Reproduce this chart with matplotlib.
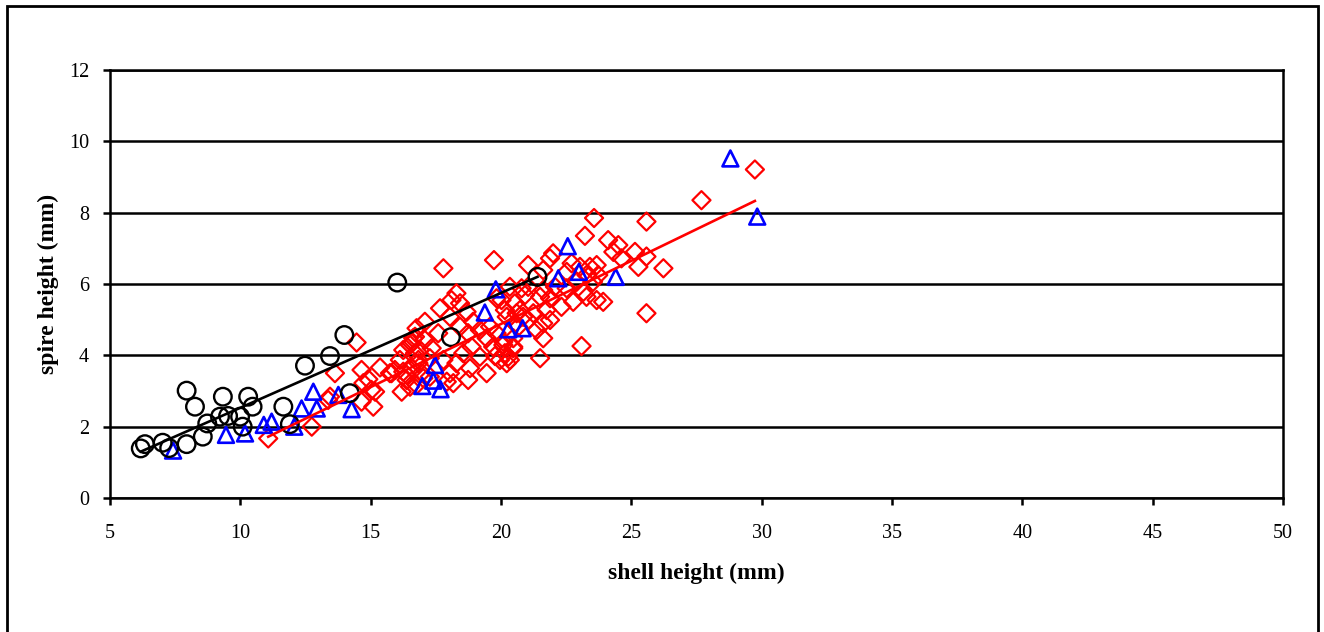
import numpy as np
import matplotlib.pyplot as plt
from matplotlib.patches import Rectangle

plt.rcParams["font.family"] = ["Liberation Serif", "DejaVu Serif"]

# black circles
circle_x = [6.18, 6.34, 7.02, 7.27, 7.94, 7.94, 8.26, 8.56, 8.73, 9.22, 9.33, 9.53,
            9.99, 10.09, 10.30, 10.47, 11.65, 11.90, 12.48, 13.44, 13.99, 14.20,
            16.02, 18.08, 21.40]
circle_y = [1.39, 1.51, 1.55, 1.40, 1.51, 3.01, 2.56, 1.72, 2.09, 2.28, 2.84, 2.30,
            2.28, 2.00, 2.84, 2.56, 2.56, 2.07, 3.71, 3.98, 4.57, 2.94,
            6.04, 4.51, 6.20]

# blue triangles
triangle_x = [7.42, 9.45, 10.18, 10.90, 11.20, 12.07, 12.35, 12.80, 12.93, 13.76,
              14.27, 16.98, 17.40, 17.47, 17.68, 19.38, 19.80, 20.28, 20.83, 22.20,
              22.56, 22.99, 24.40, 28.80, 29.83]
triangle_y = [1.33, 1.77, 1.81, 2.05, 2.14, 2.00, 2.51, 2.98, 2.51, 2.89,
              2.49, 3.14, 3.29, 3.73, 3.05, 5.20, 5.85, 4.73, 4.76, 6.16,
              7.06, 6.34, 6.20, 9.52, 7.89]

# red diamonds
diamond_x = [11.07, 12.74, 14.46, 13.63, 14.65, 14.91, 15.36, 15.03, 14.72, 15.17,
             15.10, 14.65, 13.44, 13.37, 15.80, 16.19, 16.25, 16.57, 16.57, 16.70,
             16.83, 16.38, 16.95, 16.70, 16.76,
             17.79, 19.73, 21.04, 18.29, 18.10, 17.66, 18.43, 18.68, 18.04, 19.83,
             20.02, 20.34, 20.79, 20.15, 20.60, 20.53, 20.85, 16.76, 17.08, 16.63,
             16.25, 16.51, 17.08, 17.34, 16.89, 17.27, 17.59, 18.43, 18.74, 18.93,
             19.19, 19.58, 19.45, 19.83, 19.70, 20.09, 20.28, 20.47, 18.87, 18.55,
             19.19, 18.29, 18.81, 18.04, 18.17, 17.79, 16.12, 15.93, 16.38, 16.83,
             18.74, 19.45, 19.96,
             23.57, 23.22, 24.11, 24.50, 24.31, 22.00, 21.88, 24.62, 22.71, 23.41,
             23.67, 23.03, 21.62, 22.52, 23.28, 23.73, 22.90, 23.53, 22.07, 22.52,
             21.62, 21.04, 20.92, 21.50, 21.88, 23.16, 23.28, 23.67, 23.92, 22.77,
             22.32, 21.75, 20.53, 20.73, 21.24, 20.22, 21.04, 21.62, 21.88, 20.66,
             21.37, 20.47, 21.62, 23.09, 20.09, 20.47, 20.15, 20.34, 21.50, 20.22,
             25.58, 25.14, 25.58, 25.27, 26.23, 29.74, 27.69, 25.58,
             16.51, 17.02, 17.27, 17.92, 15.74, 19.77]
diamond_y = [1.67, 2.00, 4.36, 3.50, 3.59, 3.33, 3.66, 3.03, 3.22, 2.98,
             2.56, 2.70, 2.84, 2.75, 3.50, 2.98, 3.54, 3.64, 4.34, 4.06,
             3.78, 3.31, 3.50, 4.52, 3.17,
             6.44, 6.67, 6.53, 5.74, 5.55, 5.32, 5.46, 5.22, 5.08, 5.60,
             5.55, 5.92, 5.88, 5.27, 5.18, 4.90, 5.08, 4.76, 4.94, 4.48,
             4.15, 4.29, 4.43, 4.20, 4.15, 3.92, 4.62, 4.80, 4.62, 4.94,
             4.71, 4.80, 4.48, 4.62, 4.24, 4.38, 3.96, 4.24, 4.24, 4.06,
             3.96, 3.78, 3.64, 3.50, 3.22, 3.87, 3.87, 3.59, 3.45, 3.87,
             3.31, 3.50, 3.87,
             7.85, 7.35, 7.23, 7.09, 6.90, 6.86, 6.72, 6.72, 6.58, 6.48,
             6.53, 6.48, 6.39, 6.34, 6.25, 6.25, 6.06, 6.06, 5.92, 5.88,
             5.83, 5.92, 5.69, 5.64, 5.60, 5.78, 5.64, 5.55, 5.50, 5.50,
             5.36, 5.27, 5.46, 5.27, 5.18, 5.08, 4.99, 4.90, 4.99, 4.80,
             4.71, 4.48, 4.48, 4.26, 4.29, 4.20, 4.06, 3.87, 3.92, 3.78,
             7.75, 6.90, 6.77, 6.48, 6.44, 9.21, 8.35, 5.18,
             3.12, 3.36, 3.40, 3.26, 3.50, 3.98]

# linear trendline coefficients (slope, intercept)
diamond_trend = (0.354, -2.20)
circle_trend = (0.322, -0.69)

x_ticks = [5, 10, 15, 20, 25, 30, 35, 40, 45, 50]
y_ticks = [0, 2, 4, 6, 8, 10, 12]

fig = plt.figure(figsize=(13.24, 6.32), dpi=100)
ax = fig.add_axes([110 / 1324, 1 - 498 / 632, 1173 / 1324, 428 / 632])

# outer chart border (bottom edge falls off the picture)
fig.patches.append(Rectangle((7 / 1324, -0.05), 1311 / 1324, 1.05 - 6 / 632,
                             transform=fig.transFigure, fill=False,
                             edgecolor="black", linewidth=2))

ax.scatter(diamond_x, diamond_y, marker="D", s=85, facecolors="none",
           edgecolors="#ff0000", linewidths=1.6, zorder=3)
ax.scatter(triangle_x, triangle_y, marker="^", s=130, facecolors="none",
           edgecolors="#0000ff", linewidths=1.9, zorder=4)
ax.scatter(circle_x, circle_y, marker="o", s=160, facecolors="none",
           edgecolors="black", linewidths=1.7, zorder=5)

# trendlines over each series' x range
for xs, (b, a), c in [(diamond_x, diamond_trend, "#ff0000"),
                      (circle_x, circle_trend, "black")]:
    xr = np.array([min(xs), max(xs)])
    ax.plot(xr, a + b * xr, color=c, linewidth=1.9, zorder=6)

ax.set_xlim(5, 50)
ax.set_ylim(0, 12)
ax.set_xticks(x_ticks)
ax.set_yticks(y_ticks)
ax.yaxis.grid(True, color="black", linewidth=1.8)
ax.set_axisbelow(True)
for sp in ax.spines.values():
    sp.set_linewidth(1.8)
ax.tick_params(direction="out", length=5, width=1.8, labelsize=14.5)
ax.tick_params(axis="x", pad=14)
ax.tick_params(axis="y", pad=10)

ax.set_xlabel("shell height (mm)", fontsize=17, fontweight="bold", labelpad=14)
ax.set_ylabel("spire height (mm)", fontsize=17, fontweight="bold", labelpad=7)

fig.savefig("out.png", dpi=100)
